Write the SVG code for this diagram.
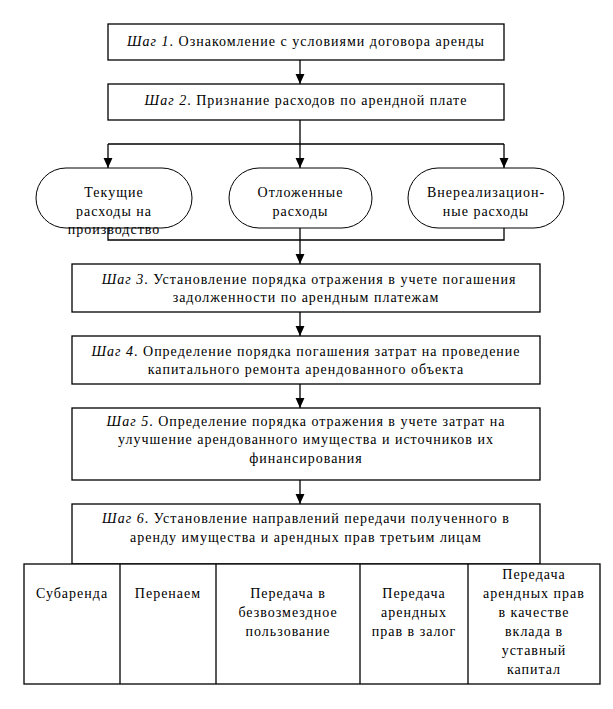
<svg xmlns="http://www.w3.org/2000/svg" width="613" height="709" viewBox="0 0 613 709">
<style>
  .box { fill: #fff; stroke: #000; stroke-width: 1.3; }
  .oval { fill: #fff; stroke: #000; stroke-width: 1; }
  .ln { fill: none; stroke: #000; stroke-width: 1.3; }
  text { font-family: "Liberation Serif", "Times New Roman", "DejaVu Serif", serif; font-size: 14px; letter-spacing: 1px; fill: #000; text-anchor: middle; }
  .it { font-style: italic; }
</style>
<defs>
  <marker id="arr" markerUnits="userSpaceOnUse" markerWidth="10" markerHeight="10" refX="4" refY="9" orient="0" viewBox="0 0 8 9">
    <path d="M0 0 L8 0 L4 9 Z" fill="#000"/>
  </marker>
</defs>
<rect width="613" height="709" fill="#fff"/>

<g id="connectors">
  <path class="ln" d="M300 60 V84" marker-end="url(#arr)"/>
  <path class="ln" d="M300 120 V144 M108 144 H504"/>
  <path class="ln" d="M108 144 V168" marker-end="url(#arr)"/>
  <path class="ln" d="M300 144 V168" marker-end="url(#arr)"/>
  <path class="ln" d="M504 144 V168" marker-end="url(#arr)"/>
  <path class="ln" d="M108 228 V240 H504 V228 M300 228 V240"/>
  <path class="ln" d="M300 240 V264" marker-end="url(#arr)"/>
  <path class="ln" d="M300 312 V336" marker-end="url(#arr)"/>
  <path class="ln" d="M300 384 V408" marker-end="url(#arr)"/>
  <path class="ln" d="M300 480 V504" marker-end="url(#arr)"/>
</g>

<g id="step1">
  <rect class="box" x="108" y="24" width="396" height="36"/>
  <text x="306" y="46"><tspan class="it">Шаг 1</tspan>. Ознакомление с условиями договора аренды</text>
</g>
<g id="step2">
  <rect class="box" x="108" y="84" width="396" height="36"/>
  <text x="306" y="105"><tspan class="it">Шаг 2</tspan>. Признание расходов по арендной плате</text>
</g>

<g id="current">
  <rect class="oval" x="36" y="168" width="156" height="60" rx="30" ry="30"/>
  <text x="114" y="197">Текущие</text>
  <text x="114" y="216">расходы на</text>
  <text x="114" y="234">производство</text>
</g>
<g id="deferred">
  <rect class="oval" x="229" y="168" width="143" height="60" rx="30" ry="30"/>
  <text x="300.5" y="197">Отложенные</text>
  <text x="300.5" y="216">расходы</text>
</g>
<g id="nonoperating">
  <rect class="oval" x="408" y="168" width="156" height="60" rx="30" ry="30"/>
  <text x="486" y="197">Внереализацион-</text>
  <text x="486" y="216">ные расходы</text>
</g>

<g id="step3">
  <rect class="box" x="72" y="264" width="468" height="48"/>
  <text x="309" y="284"><tspan class="it">Шаг 3</tspan>. Установление порядка отражения в учете погашения</text>
  <text x="306" y="302">задолженности по арендным платежам</text>
</g>
<g id="step4">
  <rect class="box" x="72" y="336" width="468" height="48"/>
  <text x="306" y="356"><tspan class="it">Шаг 4</tspan>. Определение порядка погашения затрат на проведение</text>
  <text x="306" y="374">капитального ремонта арендованного объекта</text>
</g>
<g id="step5">
  <rect class="box" x="72" y="408" width="468" height="72"/>
  <text x="306" y="426"><tspan class="it">Шаг 5</tspan>. Определение порядка отражения в учете затрат на</text>
  <text x="306" y="444">улучшение арендованного имущества и источников их</text>
  <text x="306" y="463">финансирования</text>
</g>
<g id="step6">
  <rect class="box" x="72" y="504" width="468" height="60"/>
  <text x="306" y="523"><tspan class="it">Шаг 6</tspan>. Установление направлений передачи полученного в</text>
  <text x="306" y="542">аренду имущества и арендных прав третьим лицам</text>
</g>

<g id="directions">
  <rect class="box" x="24" y="564" width="576" height="120"/>
  <path class="ln" d="M120 564 V684 M216 564 V684 M360 564 V684 M468 564 V684"/>
  <g id="sublease">
    <text x="72" y="598">Субаренда</text>
  </g>
  <g id="renting">
    <text x="168" y="598">Перенаем</text>
  </g>
  <g id="free-use">
    <text x="288" y="598">Передача в</text>
    <text x="288" y="617">безвозмездное</text>
    <text x="288" y="636">пользование</text>
  </g>
  <g id="pledge">
    <text x="414" y="598">Передача</text>
    <text x="414" y="617">арендных</text>
    <text x="414" y="636">прав в залог</text>
  </g>
  <g id="contribution">
    <text x="534" y="579">Передача</text>
    <text x="534" y="598">арендных прав</text>
    <text x="534" y="617">в качестве</text>
    <text x="534" y="636">вклада в</text>
    <text x="534" y="655">уставный</text>
    <text x="534" y="674">капитал</text>
  </g>
</g>
</svg>
